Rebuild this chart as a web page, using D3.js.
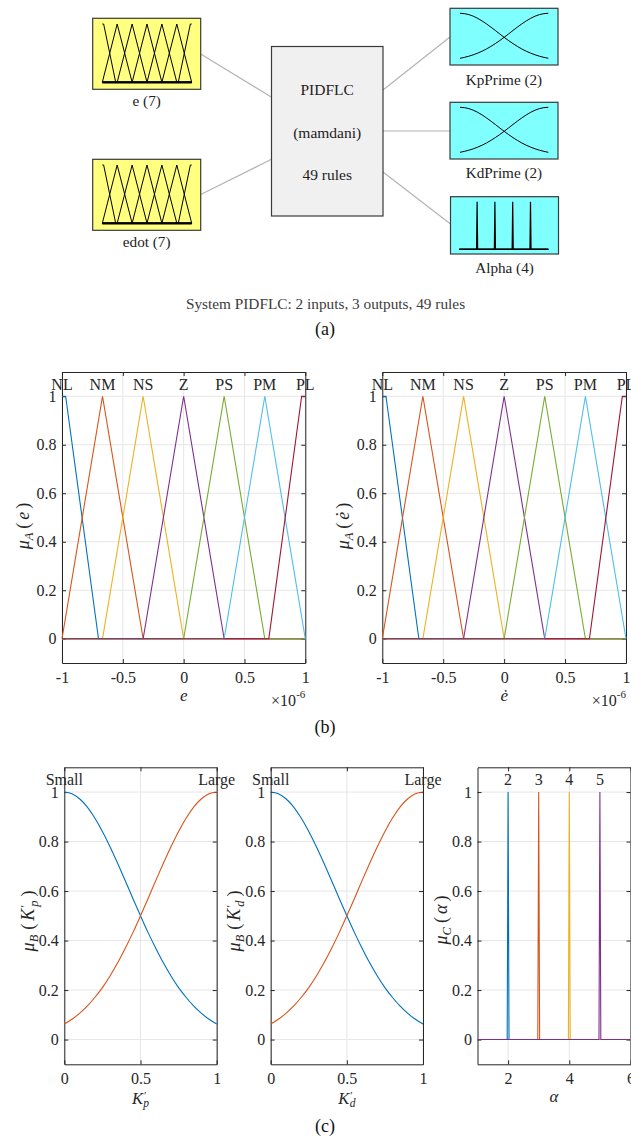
<!DOCTYPE html>
<html><head><meta charset="utf-8">
<script src="https://cdn.jsdelivr.net/npm/d3@7"></script>
<style>body{margin:0;background:#fff}svg{display:block}</style>
</head><body>
<svg id="c" width="631" height="1140"></svg>
<script>
// ---------------- DATA ----------------
const eNames = ["NL","NM","NS","Z","PS","PM","PL"];
const eLabelX = [-1,-0.667,-0.333,0,0.333,0.667,1];
const eMFx = [
  [-1,-0.97,-0.7,1],
  [-1,-0.667,-0.333,1],
  [-1,-0.667,-0.333,0,1],
  [-1,-0.333,0,0.333,1],
  [-1,0,0.333,0.667,1],
  [-1,0.333,0.667,1],
  [-1,0.7,0.97,1]
];
const eMFy = [
  [1,1,0,0],
  [0,1,0,0],
  [0,0,1,0,0],
  [0,0,1,0,0],
  [0,0,1,0,0],
  [0,0,1,0],
  [0,0,1,1]
];
const kNames = ["Small","Large"];
const kLabelX = [0,1];
const kGrid = [0,0.05,0.1,0.15,0.2,0.25,0.3,0.35,0.4,0.45,0.5,0.55,0.6,0.65,0.7,0.75,0.8,0.85,0.9,0.95,1];
const kpSmall = [1,0.993,0.973,0.940,0.895,0.841,0.779,0.712,0.642,0.570,0.5,0.432,0.369,0.310,0.257,0.210,0.170,0.135,0.106,0.082,0.0625];
const kpLarge = [0.0625,0.082,0.106,0.135,0.170,0.210,0.257,0.310,0.369,0.432,0.5,0.570,0.642,0.712,0.779,0.841,0.895,0.940,0.973,0.993,1];
const kdSmall = [1,0.993,0.973,0.940,0.895,0.841,0.779,0.712,0.642,0.570,0.5,0.432,0.369,0.310,0.257,0.210,0.170,0.135,0.106,0.082,0.0625];
const kdLarge = [0.0625,0.082,0.106,0.135,0.170,0.210,0.257,0.310,0.369,0.432,0.5,0.570,0.642,0.712,0.779,0.841,0.895,0.940,0.973,0.993,1];
const aNames = ["2","3","4","5"];
const aLabelX = [2,3,4,5];
const aMFx = [
  [1,1.97,2,2.03,6],
  [1,2.97,3,3.03,6],
  [1,3.97,4,4.03,6],
  [1,4.97,5,5.03,6]
];
const aMFy = [
  [0,0,1,0,0],
  [0,0,1,0,0],
  [0,0,1,0,0],
  [0,0,1,0,0]
];
const eTicks = [-1,-0.5,0,0.5,1];
const muTicks = [0,0.2,0.4,0.6,0.8,1];
const kTicks = [0,0.5,1];
const aTicks = [2,4,6];
const inputLabels = ["e (7)","edot (7)"];
const outputLabels = ["KpPrime (2)","KdPrime (2)","Alpha (4)"];
const fisLines = ["PIDFLC","(mamdani)","49 rules"];
const fisCaption = "System PIDFLC: 2 inputs, 3 outputs, 49 rules";
const panelTags = ["(a)","(b)","(c)"];
const colors = ["#0072BD","#D95319","#EDB120","#7E2F8E","#77AC30","#4DBEEE","#A2142F"];

// ---------------- DRAW ----------------
const svg = d3.select("#c");
const FONT = "Liberation Serif";
const INK = "#262626";
const line = d3.line();

// ===== (a) FIS diagram =====
const ga = svg.append("g");
const conn = [
  [[200.7,54],[272,97.5]],
  [[200.7,194.5],[272,159]],
  [[383,90],[450,37]],
  [[383,131],[450,131]],
  [[383,172],[450.5,224]]
];
ga.selectAll("path.conn").data(conn).join("path").attr("class","conn")
  .attr("d", d=>line(d)).attr("stroke","#b4b4b4").attr("stroke-width",1.2).attr("fill","none");

function box(x,y,w,h,fill){
  ga.append("rect").attr("x",x).attr("y",y).attr("width",w).attr("height",h)
    .attr("fill",fill).attr("stroke","#3a3a3a").attr("stroke-width",1.2);
}
function boxLabel(t,cx,by){
  ga.append("text").attr("x",cx).attr("y",by).attr("text-anchor","middle")
    .attr("font-family",FONT).attr("font-size",15.2).attr("fill","#222").text(t);
}
const inBoxes = [{x:92.7,y:18.3},{x:92.7,y:159.3}];
inBoxes.forEach((b,i)=>{
  box(b.x,b.y,108,71,"#ffff80");
  const sx = d3.scaleLinear().domain([-1,1]).range([b.x+9.6,b.x+99]);
  const sy = d3.scaleLinear().domain([0,1]).range([b.y+64,b.y+5.7]);
  eMFx.forEach((xs,j)=>{
    ga.append("path").attr("d", d3.line().x(d=>sx(d[0])).y(d=>sy(d[1]))(d3.zip(xs,eMFy[j])))
      .attr("fill","none").attr("stroke","#000").attr("stroke-width",1);
  });
  ga.append("line").attr("x1",sx(-1)).attr("x2",sx(1)).attr("y1",sy(0)).attr("y2",sy(0))
    .attr("stroke","#000").attr("stroke-width",2.2);
  boxLabel(inputLabels[i], b.x+54, [106,247][i]);
});
box(271.5,46.5,111.5,169.5,"#f0f0f0");
fisLines.forEach((t,i)=>{
  ga.append("text").attr("x",327.2).attr("y",[95,137.7,180][i]).attr("text-anchor","middle")
    .attr("font-family",FONT).attr("font-size",15.5).attr("fill","#222").text(t);
});
const outBoxes = [{x:450,y:8.3,h:56.7},{x:450,y:102.3,h:56.7},{x:450.5,y:196.7,h:57.3}];
outBoxes.forEach((b,i)=>{
  box(b.x,b.y,108,b.h,"#80ffff");
  if(i<2){
    const sx = d3.scaleLinear().domain([0,1]).range([b.x+10,b.x+98.3]);
    const sy = d3.scaleLinear().domain([0,1]).range([b.y+53,b.y+5]);
    const S = i===0?[kpSmall,kpLarge]:[kdSmall,kdLarge];
    S.forEach(v=>{
      ga.append("path").attr("d", d3.line().curve(d3.curveMonotoneX).x(d=>sx(d[0])).y(d=>sy(d[1]))(d3.zip(kGrid,v)))
        .attr("fill","none").attr("stroke","#000").attr("stroke-width",1);
    });
  } else {
    const sx = d3.scaleLinear().domain([1,6]).range([b.x+8.8,b.x+97.8]);
    const sy = d3.scaleLinear().domain([0,1]).range([b.y+52.6,b.y+5]);
    aMFx.forEach((xs,j)=>{
      ga.append("path").attr("d", d3.line().x(d=>sx(d[0])).y(d=>sy(d[1]))(d3.zip(xs,aMFy[j])))
        .attr("fill","none").attr("stroke","#000").attr("stroke-width",1.2);
    });
  }
  boxLabel(outputLabels[i], b.x+54, [85,178.3,272.5][i]);
});
ga.append("text").attr("x",325.5).attr("y",309).attr("text-anchor","middle")
  .attr("font-family",FONT).attr("font-size",15.3).attr("fill","#3c3c3c").text(fisCaption);

// ===== axes helper =====
function makeAxes(g, xs, ys, xTicks, yTicks, xfmt){
  const [yb,yt] = ys.range();
  const [xl,xr] = xs.range();
  g.append("g").selectAll("line").data(xTicks).join("line")
    .attr("x1",d=>xs(d)).attr("x2",d=>xs(d)).attr("y1",yb).attr("y2",yt)
    .attr("stroke","#e6e6e6").attr("stroke-width",1);
  g.append("g").selectAll("line").data(yTicks).join("line")
    .attr("y1",d=>ys(d)).attr("y2",d=>ys(d)).attr("x1",xl).attr("x2",xr)
    .attr("stroke","#e6e6e6").attr("stroke-width",1);
  const style = a => {
    a.attr("font-family",FONT).attr("font-size",16);
    a.select(".domain").attr("stroke",INK).attr("stroke-width",1);
    a.selectAll(".tick line").attr("stroke",INK);
    a.selectAll(".tick text").attr("fill",INK);
  };
  g.append("g").attr("transform",`translate(0,${yb})`)
    .call(d3.axisBottom(xs).tickValues(xTicks).tickSize(-4).tickSizeOuter(0).tickPadding(8.8).tickFormat(xfmt)).call(style);
  g.append("g").attr("transform",`translate(0,${yt})`)
    .call(d3.axisTop(xs).tickValues(xTicks).tickSize(-4).tickSizeOuter(0).tickFormat("")).call(style);
  g.append("g").attr("transform",`translate(${xl},0)`)
    .call(d3.axisLeft(ys).tickValues(yTicks).tickSize(-4).tickSizeOuter(0).tickPadding(5.5).tickFormat(d=>String(d))).call(style);
  g.append("g").attr("transform",`translate(${xr},0)`)
    .call(d3.axisRight(ys).tickValues(yTicks).tickSize(-4).tickSizeOuter(0).tickFormat("")).call(style);
}
function txt(g,x,y,t,opt={}){
  return g.append("text").attr("x",x).attr("y",y).attr("text-anchor",opt.anchor||"middle")
    .attr("font-family",FONT).attr("font-size",opt.size||16).attr("fill",opt.fill||INK)
    .attr("font-style",opt.italic?"italic":null).text(t);
}
function rotLabel(g,x,y){
  return g.append("text").attr("transform",`translate(${x},${y}) rotate(-90)`).attr("text-anchor","middle")
    .attr("font-family",FONT).attr("font-size",18).attr("fill",INK);
}
function addSpan(t,s,opt={}){
  const sp = t.append("tspan").text(s);
  if(opt.italic) sp.attr("font-style","italic");
  if(opt.size) sp.attr("font-size",opt.size);
  if(opt.dx!=null) sp.attr("dx",opt.dx);
  if(opt.dy!=null) sp.attr("dy",opt.dy);
  return sp;
}

// ===== (b) =====
const gb = svg.append("g");
const bX = [[62,305.3],[382.3,626]];
const yB = d3.scaleLinear().domain([-0.1,1.1]).range([663,372]);
bX.forEach((r,k)=>{
  const xs = d3.scaleLinear().domain([-1,1]).range(r);
  makeAxes(gb, xs, yB, eTicks, muTicks, d=>String(d));
  eMFx.forEach((xv,j)=>{
    gb.append("path").attr("d", d3.line().x(d=>xs(d[0])).y(d=>yB(d[1]))(d3.zip(xv,eMFy[j])))
      .attr("fill","none").attr("stroke",colors[j]).attr("stroke-width",1.1);
  });
  eNames.forEach((n,j)=> txt(gb, xs(eLabelX[j]), yB(1)-6.5, n));
  const ex = gb.append("text").attr("x",r[1]).attr("y",706).attr("text-anchor","end")
    .attr("font-family",FONT).attr("font-size",16).attr("fill",INK);
  addSpan(ex,"×10");
  addSpan(ex,"-6",{size:11,dy:-8});
  txt(gb, xs(0), 700.5, k===0?"e":"ė", {italic:true, size:17});
  const yl = rotLabel(gb, r[0]-33.5, 526);
  addSpan(yl,"μ",{italic:true});
  addSpan(yl,"A",{italic:true,size:12.5,dy:4});
  addSpan(yl,"(",{dx:4,dy:-4});
  addSpan(yl,k===0?"e":"ė",{italic:true,dx:3});
  addSpan(yl,")",{dx:3});
});

// ===== (c) =====
const gc = svg.append("g");
const yC = d3.scaleLinear().domain([-0.1,1.1]).range([1064.3,767.3]);
const cX = [[64.3,216.7],[270.7,423],[477.5,630.5]];
const kSets = [[kpSmall,kpLarge],[kdSmall,kdLarge]];
const kSub = ["p","d"];
cX.forEach((r,k)=>{
  if(k<2){
    const xs = d3.scaleLinear().domain([0,1]).range(r);
    makeAxes(gc, xs, yC, kTicks, muTicks, d=>String(d));
    kSets[k].forEach((v,j)=>{
      gc.append("path").attr("d", d3.line().curve(d3.curveMonotoneX).x(d=>xs(d[0])).y(d=>yC(d[1]))(d3.zip(kGrid,v)))
        .attr("fill","none").attr("stroke",colors[j]).attr("stroke-width",1.1);
    });
    kNames.forEach((n,j)=> txt(gc, xs(kLabelX[j]), yC(1)-7.5, n));
    const xl = gc.append("text").attr("x",xs(0.5)).attr("y",1103.5).attr("text-anchor","middle")
      .attr("font-family",FONT).attr("font-size",16.5).attr("fill",INK);
    addSpan(xl,"K",{italic:true});
    addSpan(xl,"′",{size:11,dy:-5,dx:1});
    addSpan(xl,kSub[k],{italic:true,size:11.5,dx:-3,dy:8});
    const yl = rotLabel(gc, r[0]-30.5, 921);
    addSpan(yl,"μ",{italic:true});
    addSpan(yl,"B",{italic:true,size:12.5,dy:4});
    addSpan(yl,"(",{dx:5,dy:-4});
    addSpan(yl,"K",{italic:true,dx:3});
    addSpan(yl,"′",{size:13,dy:-5,dx:1});
    addSpan(yl,kSub[k],{italic:true,size:12.5,dx:-2,dy:9});
    addSpan(yl,")",{dx:4,dy:-4});
  } else {
    const xs = d3.scaleLinear().domain([1,6]).range(r);
    makeAxes(gc, xs, yC, aTicks, muTicks, d=>String(d));
    aMFx.forEach((xv,j)=>{
      gc.append("path").attr("d", d3.line().x(d=>xs(d[0])).y(d=>yC(d[1]))(d3.zip(xv,aMFy[j])))
        .attr("fill","none").attr("stroke",colors[j]).attr("stroke-width",1.1);
    });
    aNames.forEach((n,j)=> txt(gc, xs(aLabelX[j]), yC(1)-7.5, n));
    txt(gc, xs(3.5), 1101.7, "α", {italic:true, size:17});
    const yl = rotLabel(gc, r[0]-30.5, 920);
    addSpan(yl,"μ",{italic:true});
    addSpan(yl,"C",{italic:true,size:12.5,dy:4});
    addSpan(yl,"(",{dx:4,dy:-4});
    addSpan(yl,"α",{italic:true,dx:3});
    addSpan(yl,")",{dx:3});
  }
});

// panel tags
[334.5,733,1131.5].forEach((y,i)=>{
  txt(svg, 325, y, panelTags[i], {size:18, fill:"#111"});
});
</script>
</body></html>
